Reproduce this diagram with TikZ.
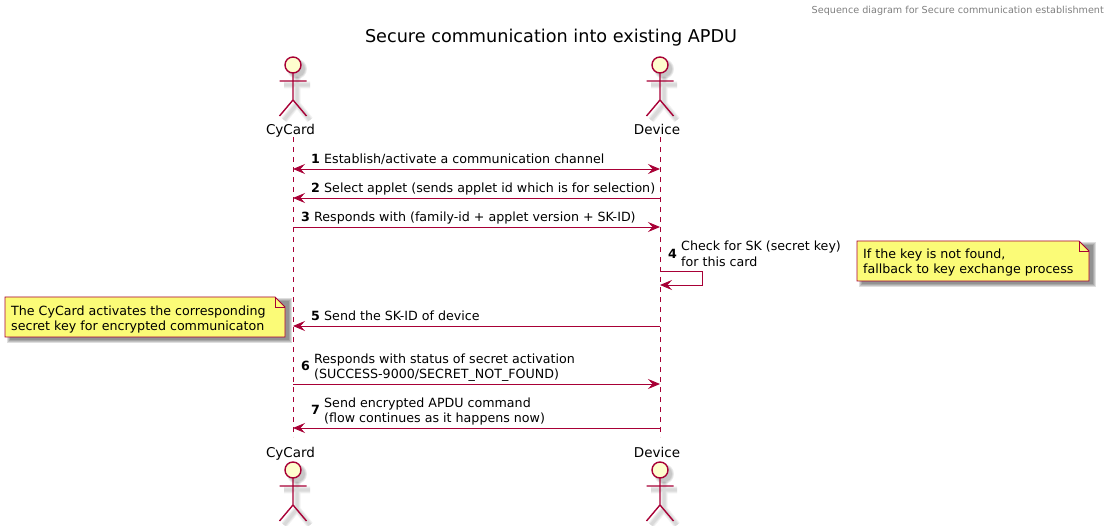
\documentclass[tikz,border=0pt]{standalone}
\usepackage{fontspec}
\setmainfont{DejaVu Sans}
\usetikzlibrary{arrows.meta}
\definecolor{umlred}{HTML}{A80036}
\definecolor{headfill}{HTML}{FEFECE}
\definecolor{notefill}{HTML}{FBFB77}
\tikzset{
  x=1pt,y=-1pt,
  msg/.style={draw=umlred,line width=0.9pt,-{Stealth[length=12pt,width=10pt,inset=4.5pt]}},
  msgboth/.style={draw=umlred,line width=0.9pt,{Stealth[length=12pt,width=10pt,inset=4.5pt]}-{Stealth[length=12pt,width=10pt,inset=4.5pt]}},
  life/.style={draw=umlred,line width=0.9pt,dash pattern=on 5pt off 5pt},
  label/.style={inner sep=0pt,anchor=base west,font=\fontsize{12.65}{14.6}\selectfont,align=left},
  num/.style={inner sep=0pt,anchor=base east,font=\fontsize{12.65}{14.6}\selectfont\bfseries},
  actorname/.style={inner sep=0pt,anchor=base,font=\fontsize{13.5}{15}\selectfont},
}
\newcommand{\actorfig}[2]{%
  \begin{scope}[shift={(#1,#2)}]
    \begin{scope}[shift={(4,4)}]
      \foreach \w/\r in {7/10,5/9,3/8}{
        \fill[black,opacity=0.08] (0,0) circle (\r);
        \draw[black,opacity=0.05,line width=\w pt] (0,8) -- (0,35) (-13,16) -- (13,16) (0,35) -- (-13,51) (0,35) -- (13,51);
      }
    \end{scope}
    \draw[umlred,fill=headfill,line width=1.4pt] (0,0) circle (8);
    \draw[umlred,line width=1.4pt] (0,8) -- (0,35) (-13.5,16) -- (13.5,16) (0,35) -- (-13.5,51) (0,35) -- (13.5,51);
  \end{scope}}
\newcommand{\notebox}[5]{% x0 y0 x1 y1 name
  \foreach \e in {2.5,1.5,0.5,-0.5}{
    \fill[black,opacity=0.13] (#1+4-\e,#2+4-\e) rectangle (#3+4+\e,#4+4+\e);
  }
  \draw[umlred,fill=notefill,line width=0.8pt] (#1,#2) -- (#3-10,#2) -- (#3,#2+10) -- (#3,#4) -- (#1,#4) -- cycle;
  \draw[umlred,line width=0.8pt] (#3-10,#2) -- (#3-10,#2+10) -- (#3,#2+10);
}
\begin{document}
\begin{tikzpicture}
\useasboundingbox (0,0) rectangle (1109,526);
\fill[white] (0,0) rectangle (1109,526);
\node[inner sep=0pt,anchor=base east,text=gray,font=\fontsize{9.63}{11}\selectfont] (header) at (1104,14) {Sequence diagram for Secure communication establishment};
\node[inner sep=0pt,anchor=base,font=\fontsize{17.65}{20}\selectfont] (title) at (551,43) {Secure communication into existing APDU};

\coordinate (cTop) at (293,137); \coordinate (cBot) at (293,437);
\coordinate (dTop) at (660,137); \coordinate (dBot) at (660,437);
\draw[life] (cTop) -- (cBot);
\draw[life] (dTop) -- (dBot);

\actorfig{293}{65}
\actorfig{660}{65}
\actorfig{293}{470}
\actorfig{660}{470}
\node[actorname] (cardA) at (290.5,135) {CyCard};
\node[actorname] (devA) at (657,135) {Device};
\node[actorname] (cardB) at (290.5,457) {CyCard};
\node[actorname] (devB) at (657,457) {Device};

\foreach \n/\y in {1/169,2/198,3/227,5/326,6/384,7/428}{
  \coordinate (c\n) at (293,\y);
  \coordinate (d\n) at (660,\y);
}
\coordinate (d4a) at (660,271); \coordinate (d4b) at (702,271);
\coordinate (d4c) at (702,285); \coordinate (d4d) at (660,285);

\draw[msgboth] (c1) -- (d1);
\draw[msg] (d2) -- (c2);
\draw[msg] (c3) -- (d3);
\draw[msg] (d4a) -- (d4b) -- (d4c) -- (d4d);
\draw[msg] (d5) -- (c5);
\draw[msg] (c6) -- (d6);
\draw[msg] (d7) -- (c7);

\node[num] (n1) at (320,164) {1};
\node[label] (m1) at (324,164) {Establish/activate a communication channel};
\node[num] (n2) at (320,193) {2};
\node[label] (m2) at (324,193) {Select applet (sends applet id which is for selection)};
\node[num] (n3) at (310,222) {3};
\node[label] (m3) at (314,222) {Responds with (family-id + applet version + SK-ID)};
\node[num] (n4) at (677,259) {4};
\node[label] (m4a) at (681,251) {Check for SK (secret key)};
\node[label] (m4b) at (681,267) {for this card};
\node[num] (n5) at (320,321) {5};
\node[label] (m5) at (324,321) {Send the SK-ID of device};
\node[num] (n6) at (310,371) {6};
\node[label] (m6a) at (314,364) {Responds with status of secret activation};
\node[label] (m6b) at (314,379) {(SUCCESS-9000/SECRET\_NOT\_FOUND)};
\node[num] (n7) at (320,415) {7};
\node[label] (m7a) at (324,408) {Send encrypted APDU command};
\node[label] (m7b) at (324,423) {(flow continues as it happens now)};

\notebox{857}{241}{1089}{281}{noteA}
\node[label] (tA1) at (863,259) {If the key is not found,};
\node[label] (tA2) at (863,274) {fallback to key exchange process};
\notebox{5}{297}{285}{337}{noteB}
\node[label] (tB1) at (11,316) {The CyCard activates the corresponding};
\node[label] (tB2) at (11,331) {secret key for encrypted communicaton};
\end{tikzpicture}
\end{document}
